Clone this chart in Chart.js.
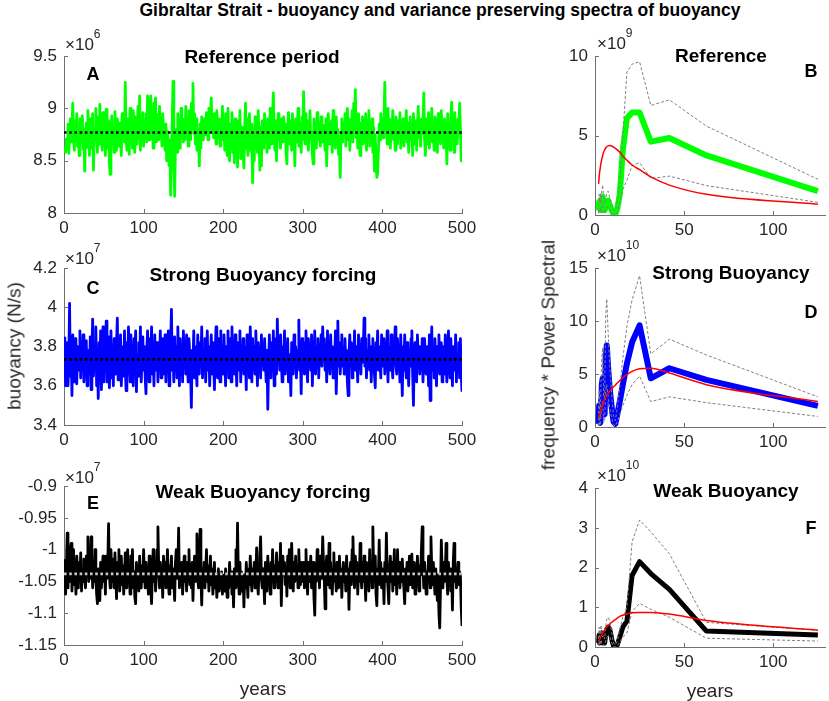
<!DOCTYPE html>
<html>
<head>
<meta charset="utf-8">
<script src="https://cdn.jsdelivr.net/npm/chart.js@4.4.1/dist/chart.umd.min.js"></script>
<style>
body{margin:0;background:#fff;}
#fig{position:relative;width:829px;height:701px;overflow:hidden;font-family:'Liberation Sans',Arial,sans-serif;color:#000;}
#fig canvas{position:absolute;}
.t{position:absolute;white-space:nowrap;transform:translate(-50%,-50%);line-height:1;}
.ex{position:absolute;white-space:nowrap;transform:translate(0,-50%);font-size:17px;color:#262626;line-height:1;}
.ex sup{font-size:12px;position:relative;top:-5px;}
</style>
</head>
<body>
<div id="fig"></div>
<script>
// time series (years 1..500), values in axis units (x10^6, x10^7, x10^7)
var seriesA = [
8.62,8.58,8.71,8.66,8.85,8.57,8.74,8.9,8.68,8.8,9.05,8.72,8.6,8.88,8.7,8.95,8.64,8.82,8.55,8.9,8.76,8.68,8.93,8.61,8.8,
8.4,8.72,8.86,8.63,8.98,8.7,8.55,8.9,8.78,8.62,8.95,8.41,8.8,8.69,9.0,8.74,8.58,8.92,8.66,9.04,8.71,8.85,8.6,8.96,8.68,
8.82,8.55,8.99,8.7,8.62,8.88,8.48,8.37,8.75,8.93,8.66,8.8,8.58,8.97,8.72,8.6,8.9,8.78,8.64,8.86,8.7,8.55,8.95,8.74,8.82,
8.68,9.25,8.72,8.6,8.9,8.78,8.56,9.0,8.7,8.85,8.62,8.98,8.74,8.58,8.92,8.8,8.66,9.02,8.72,9.12,8.6,8.84,8.7,8.96,8.64,
8.88,8.75,8.95,8.68,9.12,8.8,8.7,9.0,9.12,8.74,8.9,8.62,9.05,8.78,9.1,8.68,8.94,8.82,8.7,9.02,8.76,8.88,8.64,8.95,8.8,
8.72,8.6,8.85,8.5,8.78,8.62,8.45,8.7,8.17,8.5,8.9,9.26,8.55,8.16,8.65,8.8,8.58,8.95,8.7,8.84,8.62,9.0,8.75,8.9,8.68,
8.86,8.7,9.02,8.78,8.92,8.64,8.98,8.8,8.7,9.05,8.85,9.24,8.76,8.95,8.66,8.9,8.6,8.8,8.72,8.45,8.85,8.62,8.92,8.78,8.7,
8.9,8.82,8.75,8.96,8.84,8.7,9.0,8.8,8.92,9.1,8.78,8.88,8.72,8.95,8.84,8.66,8.98,8.82,8.76,8.9,8.64,8.85,8.78,9.02,8.7,
8.8,8.6,8.95,8.72,8.55,9.0,8.68,8.5,8.85,8.62,8.96,8.58,8.78,8.48,8.9,8.66,8.75,8.44,8.88,8.6,8.98,8.52,8.74,8.82,8.58,
8.43,8.8,9.05,8.62,8.9,8.55,8.75,8.95,8.6,8.85,8.68,8.29,8.72,8.5,8.92,8.66,8.78,8.58,8.98,8.7,8.41,8.82,8.45,8.88,8.62,
8.75,8.95,8.68,8.84,8.58,8.9,8.72,8.62,9.0,8.8,8.66,8.92,9.15,8.74,8.6,8.88,8.5,8.78,8.95,8.7,8.84,8.62,8.9,8.76,8.68,
8.92,8.7,8.85,8.58,8.47,8.8,8.96,8.66,8.74,8.88,8.6,8.95,8.72,8.82,8.45,8.9,8.68,8.78,9.0,8.64,8.86,8.74,8.58,8.92,8.7,
9.16,8.8,8.66,8.95,8.72,8.88,8.6,8.84,8.98,8.7,8.78,8.56,8.47,8.9,8.74,8.82,8.62,8.96,8.7,8.86,8.76,8.64,8.92,8.8,8.68,
8.84,8.72,8.6,8.9,8.45,8.78,8.95,8.66,8.82,8.7,8.88,8.58,8.98,8.74,8.85,8.62,8.92,8.7,8.8,8.56,8.66,8.34,8.75,8.9,8.68,
8.86,8.74,8.95,8.64,8.82,9.0,8.7,8.9,8.6,8.84,8.76,8.98,8.68,9.05,8.8,9.18,8.72,8.88,8.62,8.95,8.74,8.55,8.86,8.7,8.92,
8.66,8.84,8.76,8.95,8.6,8.88,8.72,8.98,8.64,8.8,8.7,8.9,8.58,8.82,8.4,8.75,8.5,8.34,8.38,8.6,8.85,8.7,8.95,8.78,8.9,
8.72,8.88,9.25,8.8,8.95,8.66,9.0,8.78,8.9,8.62,8.86,8.74,8.98,8.7,8.84,8.6,8.92,8.76,8.66,8.88,8.72,8.96,8.62,8.8,8.7,
8.9,8.64,8.84,8.75,8.98,8.68,8.86,8.58,8.78,8.92,8.7,8.82,8.55,8.95,8.74,8.66,8.88,8.6,8.8,9.02,8.72,8.86,8.64,8.9,8.76,
8.84,9.15,8.7,8.55,8.9,8.66,8.8,8.96,8.62,8.85,8.74,9.0,8.68,8.82,8.6,8.92,8.76,8.88,8.58,8.95,8.72,8.84,8.66,8.98,8.7,
8.86,8.62,8.9,8.74,8.8,8.47,8.95,8.7,8.84,8.6,8.92,9.06,8.72,8.88,8.58,8.96,8.7,8.82,8.66,8.9,8.76,9.05,8.8,8.5,8.52
];
var seriesC = [
3.85,3.6,3.75,3.82,3.6,3.72,4.02,3.65,3.78,3.55,3.86,3.7,3.62,3.84,3.74,3.61,3.8,3.68,3.76,3.88,3.64,3.79,3.72,3.86,3.62,
3.74,3.68,3.83,3.6,3.78,3.7,3.66,3.85,3.58,3.76,3.94,3.65,3.8,3.7,3.9,3.6,3.75,3.535,3.82,3.66,3.88,3.58,3.74,3.9,3.62,
3.8,3.7,3.93,3.62,3.76,3.85,3.59,3.72,3.88,3.64,3.78,3.6,3.84,3.7,3.66,3.82,3.945,3.63,3.77,3.7,3.86,3.6,3.74,3.8,3.65,
3.88,3.7,3.575,3.82,3.66,3.9,3.74,3.62,3.86,3.7,3.78,3.6,3.84,3.72,3.88,3.57,3.76,3.65,3.82,3.7,3.9,3.62,3.75,3.85,3.68,
3.8,3.64,3.56,3.78,3.88,3.7,3.62,3.84,3.74,3.9,3.66,3.8,3.6,3.86,3.72,3.68,3.82,3.62,3.78,3.7,3.88,3.64,3.76,3.84,3.66,
3.74,3.86,3.62,3.8,3.7,3.88,3.6,3.76,3.82,3.99,3.68,3.74,3.62,3.85,3.7,3.8,3.64,3.9,3.72,3.6,3.84,3.7,3.78,3.62,3.88,
3.72,3.8,3.66,3.86,3.7,3.62,3.84,3.76,3.68,3.49,3.78,3.7,3.88,3.64,3.8,3.72,3.6,3.86,3.74,3.66,3.82,3.7,3.9,3.64,3.78,
3.7,3.84,3.62,3.76,3.88,3.68,3.8,3.6,3.74,3.86,3.66,3.82,3.72,3.58,3.78,3.9,3.7,3.64,3.84,3.74,3.62,3.88,3.7,3.8,3.66,
3.86,3.72,3.6,3.8,3.7,3.88,3.64,3.76,3.84,3.62,3.9,3.7,3.78,3.66,3.86,3.72,3.6,3.82,3.74,3.68,3.88,3.62,3.78,3.7,3.84,
3.66,3.8,3.72,3.58,3.86,3.7,3.76,3.64,3.9,3.72,3.62,3.84,3.7,3.8,3.66,3.88,3.74,3.6,3.82,3.7,3.76,3.64,3.86,3.72,3.8,
3.68,3.84,3.72,3.62,3.78,3.48,3.7,3.86,3.74,3.64,3.82,3.7,3.88,3.6,3.76,3.84,3.66,3.94,3.72,3.8,3.68,3.86,3.74,3.62,3.8,
3.72,3.88,3.66,3.8,3.7,3.84,3.62,3.76,3.7,3.55,3.82,3.74,3.66,3.86,3.72,3.8,3.64,3.78,3.7,3.935,3.68,3.75,3.56,3.84,3.7,
3.82,3.66,3.76,3.88,3.7,3.62,3.84,3.74,3.8,3.68,3.86,3.6,3.76,3.72,3.88,3.66,3.8,3.7,3.84,3.64,3.78,3.72,3.86,3.7,3.9,
3.74,3.84,3.68,3.8,3.62,3.88,3.72,3.76,3.66,3.86,3.7,3.8,3.64,3.78,3.72,3.88,3.56,3.74,3.93,3.7,3.82,3.66,3.76,3.86,3.7,
3.8,3.66,3.84,3.72,3.78,3.62,3.55,3.76,3.86,3.7,3.82,3.64,3.78,3.72,3.88,3.68,3.8,3.74,3.62,3.86,3.7,3.78,3.66,3.84,3.72,
3.8,3.945,3.7,3.84,3.64,3.78,3.72,3.86,3.68,3.8,3.62,3.76,3.84,3.7,3.66,3.59,3.82,3.74,3.88,3.68,3.8,3.72,3.64,3.86,3.76,
3.7,3.84,3.66,3.78,3.72,3.88,3.62,3.8,3.74,3.68,3.86,3.72,3.64,3.8,3.76,3.9,3.7,3.66,3.84,3.72,3.78,3.62,3.86,3.7,3.55,
3.8,3.68,3.86,3.72,3.64,3.82,3.74,3.6,3.78,3.7,3.84,3.88,3.66,3.5,3.76,3.82,3.7,3.62,3.86,3.74,3.8,3.66,3.78,3.7,3.84,
3.62,3.76,3.84,3.7,3.66,3.8,3.74,3.6,3.86,3.525,3.72,3.9,3.68,3.78,3.64,3.84,3.72,3.6,3.8,3.7,3.86,3.66,3.76,3.82,3.62,
3.74,3.8,3.66,3.86,3.7,3.62,3.78,3.88,3.72,3.64,3.84,3.7,3.6,3.8,3.74,3.68,3.86,3.62,3.76,3.7,3.82,3.64,3.84,3.66,3.57
];
var seriesE = [
-1.015,-1.07,-1.03,-0.974,-1.06,-1.02,-1.05,-1.0,-0.99,-1.065,-1.03,-1.0,-1.055,-1.02,-1.07,-1.01,-1.04,-1.06,-1.02,-1.045,-1.005,-1.065,-1.03,-1.05,-1.015,
-1.04,-1.06,-1.01,-1.03,-0.98,-1.05,-1.02,-1.045,-0.98,-1.01,-1.06,-1.03,-1.05,-1.0,-1.04,-1.07,-1.085,-1.03,-1.05,-1.08,-1.02,-1.06,-1.035,-1.01,-1.05,
-1.03,-1.07,-1.01,-1.045,-1.02,-0.959,-1.04,-1.06,-1.0,-1.035,-1.05,-1.015,-1.06,-1.005,-1.04,-1.077,-1.02,-1.05,-1.0,-1.065,-1.03,-1.01,-1.055,-1.025,-1.07,
-1.04,-1.005,-1.06,-1.02,-1.0,-1.05,-1.03,-1.07,-1.01,-1.045,-1.0,-1.06,-1.035,-1.075,-1.085,-1.02,-1.05,-1.03,-1.065,-1.01,-1.045,-1.06,-1.025,-1.05,-1.0,
-1.04,-1.06,-1.02,-1.05,-1.03,-1.07,-1.01,-1.045,-1.06,-1.085,-1.03,-1.0,-1.05,-1.02,-1.065,-1.04,-1.0,-0.964,-1.03,-1.06,-1.02,-1.05,-1.035,-1.075,-1.01,
-1.045,-1.02,-1.06,-1.03,-1.0,-1.05,-1.07,-1.025,-1.04,-1.01,-1.06,-1.03,-1.05,-1.08,-1.02,-1.0,-1.045,-1.03,-0.966,-1.06,-1.035,-1.05,-1.02,-1.07,-1.04,
-1.01,-1.05,-1.03,-1.065,-1.02,-1.04,-1.0,-1.055,-1.03,-1.06,-1.02,-1.08,-1.035,-1.01,-1.05,-1.03,-0.975,-1.045,-1.06,-1.02,-0.968,-1.04,-1.087,-1.03,-1.05,
-1.02,-1.06,-1.035,-1.0,-1.05,-1.025,-1.065,-1.04,-1.01,-1.055,-1.03,-1.07,-1.045,-1.02,-1.06,-1.04,-1.075,-1.05,-1.03,-1.065,-1.045,-1.06,-1.035,-1.07,-1.05,
-1.04,-1.065,-1.03,-1.055,-1.075,-1.04,-1.06,-1.02,-1.05,-1.035,-1.07,-1.045,-1.09,-1.03,-1.06,-1.0,-1.05,-0.958,-1.04,-1.07,-1.02,-1.055,-1.035,-1.065,-1.04,
-1.09,-1.04,-1.06,-1.02,-1.05,-1.075,-1.03,-1.055,-1.01,-1.045,-1.065,-1.03,-1.05,-1.02,-1.06,-1.04,-0.997,-1.05,-1.07,-1.03,-1.01,-0.98,-1.045,-1.06,-1.03,
-1.05,-1.085,-1.02,-1.04,-1.065,-1.01,-1.045,-1.03,-1.07,-1.02,-1.05,-1.0,-1.04,-1.06,-1.025,-1.05,-1.005,-1.035,-1.06,-1.02,-1.045,-0.99,-1.088,-1.03,-1.01,
-1.04,-1.02,-1.055,-1.03,-1.073,-1.01,-1.045,-1.0,-1.06,-1.025,-0.99,-1.04,-1.065,-1.02,-1.05,-1.01,-1.045,-1.03,-1.06,-1.0,-1.04,-1.055,-1.02,-1.035,-1.05,
-1.02,-1.06,-1.03,-1.0,-1.045,-1.07,-1.02,-1.05,-1.035,-1.01,-1.06,-1.04,-1.02,-1.075,-1.103,-1.03,-1.05,-1.0,-1.04,-1.025,-1.06,-1.01,-1.045,-1.03,-0.98,
-1.02,-1.05,-1.093,-1.03,-1.01,-1.055,-1.04,-0.99,-1.06,-1.02,-1.045,-1.07,-1.03,-1.005,-1.05,-1.035,-1.065,-1.02,-1.04,-1.06,-1.01,-1.045,-1.03,-1.075,-1.04,
-1.02,-1.05,-1.035,-1.065,-1.01,-1.045,-1.03,-1.094,-1.04,-1.02,-1.055,-1.0,-0.98,-1.03,-1.06,-1.01,-1.045,-1.02,-1.07,-1.035,-1.05,-0.99,-1.04,-1.06,-1.02,
-1.05,-1.01,-1.04,-1.08,-1.02,-1.05,-1.03,-1.065,-1.0,-1.045,-1.02,-1.06,-0.964,-1.035,-1.05,-1.01,-1.07,-1.088,-1.03,-1.04,-0.985,-1.055,-1.02,-1.06,-1.03,
-1.04,-1.085,-1.02,-1.05,-0.974,-1.035,-1.06,-1.085,-1.03,-1.01,-1.05,-1.02,-1.065,-1.04,-1.0,-1.055,-1.03,-1.07,-1.0,-1.045,-1.02,-1.06,-1.035,-1.05,-1.015,
-1.045,-1.06,-1.085,-1.03,-1.05,-1.02,-1.065,-1.04,-1.01,-1.055,-1.03,-1.007,-1.06,-1.04,-1.02,-1.07,-1.035,-1.05,-1.01,-1.045,-1.065,-1.025,-1.04,-1.0,-0.964,
-1.03,-1.06,-1.02,-1.045,-1.07,-1.035,-1.05,-1.01,-1.04,-1.06,-0.98,-1.03,-1.055,-1.02,-1.045,-1.07,-1.03,-1.05,-1.08,-1.04,-1.1,-1.123,-1.06,-0.985,-1.03,
-1.06,-1.02,-1.05,-1.035,-0.99,-1.045,-1.07,-1.02,-1.05,-1.03,-1.065,-1.04,-1.095,-1.02,-0.99,-1.05,-1.03,-1.06,-1.04,-1.02,-1.055,-1.035,-1.04,-1.09,-1.12
];
var meanA = 8.77, meanC = 3.735, meanE = -1.038;

// spectra: period (years) and variance preserving spectra
var periods = [2.0,2.3,2.6,3.0,3.4,3.8,4.3,4.8,5.4,6.0,6.6,7.4,8.3,9.6,10.4,11.4,12.5,13.9,15.6,17.9,20.8,25,31.3,41.7,62.5,125];
// B, x10^9
var specB  = [0.3,0.8,0.4,0.9,0.3,0.8,1.15,0.6,0.3,0.5,0.85,0.9,0.6,0.25,0.05,0.05,0.4,1.3,4.1,6.1,6.45,6.45,4.62,4.85,3.75,1.5];
var upperB = [0.6,1.3,0.8,1.4,0.7,1.5,1.9,1.1,0.7,1.0,1.4,1.5,1.1,0.6,0.3,0.3,0.9,2.0,5.0,9.0,9.5,9.65,6.9,7.25,5.6,2.25];
var lowerB = [0.1,0.4,0.2,0.5,0.1,0.4,0.7,0.3,0.1,0.25,0.5,0.55,0.35,0.1,0.02,0.02,0.2,0.8,1.6,2.2,3.1,3.3,2.3,2.45,1.85,0.8];
var redB   = [1.96,2.35,2.7,3.0,3.3,3.5,3.75,3.95,4.1,4.22,4.3,4.35,4.37,4.33,4.28,4.2,4.1,3.95,3.72,3.45,3.15,2.85,2.4,1.88,1.3,0.68];
// D, x10^10
var specD  = [0.3,2.0,0.5,0.4,2.5,4.0,4.6,1.5,1.2,6.5,7.7,5.5,3.5,1.5,0.5,0.3,1.2,2.4,4.0,6.0,8.0,9.6,4.6,5.55,4.45,2.0];
var upperD = [0.8,3.5,1.0,1.0,4.5,6.5,7.5,3.0,2.5,10.5,12.1,8.8,5.5,2.5,1.0,0.6,1.8,3.8,6.5,9.5,12.0,14.3,6.9,8.3,6.8,2.85];
var lowerD = [0.1,1.0,0.2,0.15,1.2,2.0,2.4,0.7,0.5,3.3,4.0,2.8,1.7,0.7,0.2,0.1,0.5,1.2,2.0,3.0,4.0,4.8,2.4,2.85,2.3,1.0];
var redD   = [0.85,1.0,1.2,1.4,1.65,1.85,2.1,2.35,2.6,2.8,3.0,3.2,3.4,3.65,3.8,3.95,4.15,4.4,4.65,4.95,5.25,5.5,5.55,5.1,4.0,2.4];
// F, x10^10
var specF  = [0.1,0.3,0.1,0.2,0.35,0.2,0.1,0.15,0.1,0.3,0.45,0.5,0.45,0.15,0.03,0.0,0.05,0.25,0.5,0.65,1.8,2.15,1.85,1.45,0.4,0.3];
var upperF = [0.2,0.5,0.25,0.35,0.55,0.4,0.25,0.3,0.2,0.5,0.7,0.75,0.65,0.3,0.1,0.05,0.15,0.45,0.75,1.0,2.65,3.2,2.9,2.35,0.62,0.42];
var lowerF = [0.03,0.15,0.05,0.1,0.18,0.1,0.04,0.06,0.04,0.15,0.25,0.28,0.25,0.08,0.01,0.0,0.02,0.12,0.25,0.35,0.9,1.1,0.95,0.75,0.22,0.15];
var redF   = [0.13,0.16,0.19,0.23,0.27,0.31,0.35,0.39,0.43,0.47,0.5,0.54,0.58,0.63,0.66,0.69,0.73,0.77,0.8,0.83,0.86,0.87,0.87,0.83,0.67,0.42];

var years = seriesA.map(function (v, i) { return i + 1; });

var FONT = "'Liberation Sans', Arial, sans-serif";
var AXIS = '#707070';
var YW = 60, XH = 40, PT = 14, PR = 26;
var fig = document.getElementById('fig');

function pairs(xs, ys) { return ys.map(function (v, i) { return {x: xs[i], y: v}; }); }
function fmt(v) { return String(Math.round(v * 100) / 100); }

// matlab style inward ticks
var inTicks = {
  id: 'inTicks',
  beforeDatasetsDraw: function (chart) {
    var ctx = chart.ctx, a = chart.chartArea, sx = chart.scales.x, sy = chart.scales.y;
    ctx.save();
    ctx.strokeStyle = AXIS; ctx.lineWidth = 1;
    ctx.beginPath();
    sx.ticks.forEach(function (t) {
      var px = Math.round(sx.getPixelForValue(t.value)) + 0.5;
      ctx.moveTo(px, a.bottom); ctx.lineTo(px, a.bottom - 4);
    });
    sy.ticks.forEach(function (t) {
      var py = Math.round(sy.getPixelForValue(t.value)) + 0.5;
      ctx.moveTo(a.left, py); ctx.lineTo(a.left + 4, py);
    });
    ctx.stroke();
    ctx.restore();
  }
};

function axis(min, max, step, extra) {
  var o = {
    type: 'linear', min: min, max: max,
    grid: {display: true, drawOnChartArea: false, drawTicks: false},
    border: {display: true, color: AXIS, width: 1},
    ticks: {stepSize: step, includeBounds: false, color: '#262626', font: {family: FONT, size: 17},
            maxRotation: 0, autoSkip: false, callback: fmt}
  };
  for (var k in extra) o[k] = extra[k];
  return o;
}

function makeChart(area, datasets, xs, ys) {
  var c = document.createElement('canvas');
  var w = area.r - area.l + YW + PR, h = area.b - area.t + PT + XH;
  c.width = w; c.height = h;
  c.style.left = (area.l - YW) + 'px';
  c.style.top = (area.t - PT) + 'px';
  fig.appendChild(c);
  xs.ticks.padding = 5;
  xs.afterFit = function (s) { s.height = XH; };
  ys.ticks.padding = 7;
  ys.afterFit = function (s) { s.width = YW; };
  return new Chart(c, {
    type: 'line',
    data: {datasets: datasets},
    options: {
      responsive: false, animation: false, events: [],
      layout: {padding: {top: PT, right: PR, left: 0, bottom: 0}},
      plugins: {legend: {display: false}, tooltip: {enabled: false}, title: {display: false}},
      elements: {point: {radius: 0}, line: {tension: 0, borderJoinStyle: 'round'}},
      scales: {x: xs, y: ys}
    },
    plugins: [inTicks]
  });
}

function tsSets(vals, color, mean, meanColor) {
  return [
    {data: [{x: 0, y: mean}, {x: 500, y: mean}], borderColor: meanColor, borderWidth: 2.6,
     borderDash: [2.6, 2.6], order: 0},
    {data: pairs(years, vals), borderColor: color, borderWidth: 2.8, order: 1}
  ];
}

function specSets(vals, upper, lower, red, color, w) {
  return [
    {data: pairs(periods, red), borderColor: '#ff0000', borderWidth: 1.5, cubicInterpolationMode: 'monotone', order: 0},
    {data: pairs(periods, upper), borderColor: '#808080', borderWidth: 1, borderDash: [3, 2], order: 1},
    {data: pairs(periods, lower), borderColor: '#808080', borderWidth: 1, borderDash: [3, 2], order: 1},
    {data: pairs(periods, vals), borderColor: color, borderWidth: w, order: 2}
  ];
}

// left column: time series
makeChart({l: 64, r: 462, t: 53, b: 213}, tsSets(seriesA, '#00ff00', meanA, '#000000'),
  axis(0, 500, 100), axis(8, 9.5, 0.5));
makeChart({l: 64, r: 462, t: 265, b: 425}, tsSets(seriesC, '#0000ff', meanC, '#000000'),
  axis(0, 500, 100), axis(3.4, 4.2, 0.2));
makeChart({l: 64, r: 462, t: 483, b: 645}, tsSets(seriesE, '#000000', meanE, '#c8c8c8'),
  axis(0, 500, 100), axis(-1.15, -0.9, 0.05));

// right column: spectra
makeChart({l: 595, r: 825, t: 53, b: 215}, specSets(specB, upperB, lowerB, redB, '#00ff00', 6),
  axis(0, 129, 50), axis(0, 10, 5));
makeChart({l: 595, r: 825, t: 265, b: 427}, specSets(specD, upperD, lowerD, redD, '#0000ff', 6),
  axis(0, 129, 50), axis(0, 15, 5));
makeChart({l: 595, r: 825, t: 485, b: 647}, specSets(specF, upperF, lowerF, redF, '#000000', 5),
  axis(0, 129, 50), axis(0, 4, 1));

// texts
function txt(html, x, y, css, cls) {
  var d = document.createElement('div');
  d.className = cls || 't';
  d.innerHTML = html;
  d.style.left = x + 'px'; d.style.top = y + 'px';
  if (css) d.style.cssText += css;
  fig.appendChild(d);
}
txt('Gibraltar Strait - buoyancy and variance preserving spectra of buoyancy', 440, 11, 'font-size:17.5px;font-weight:bold;');
var subs = [['Reference period', 262, 56], ['Strong Buoyancy forcing', 263, 274], ['Weak Buoyancy forcing', 263, 491],
            ['Reference', 721, 55], ['Strong Buoyancy', 731, 272], ['Weak Buoyancy', 726, 490]];
subs.forEach(function (s) { txt(s[0], s[1], s[2], 'font-size:19px;font-weight:bold;'); });
var letters = [['A', 93, 74], ['C', 93, 288], ['E', 93, 503], ['B', 811, 71], ['D', 811, 312], ['F', 811, 528]];
letters.forEach(function (s) { txt(s[0], s[1], s[2], 'font-size:18px;font-weight:bold;'); });
txt('buoyancy (N/s)', 14, 346, 'font-size:19px;color:#262626;transform:translate(-50%,-50%) rotate(-90deg);');
txt('frequency * Power Spectral', 548, 355, 'font-size:19px;color:#262626;transform:translate(-50%,-50%) rotate(-90deg);');
txt('years', 263, 688, 'font-size:19px;color:#262626;');
txt('years', 710, 690, 'font-size:19px;color:#262626;');
var exps = [['6', 65, 43], ['7', 65, 257], ['7', 65, 476], ['9', 597, 42], ['10', 597, 254], ['10', 597, 474]];
exps.forEach(function (s) { txt('\u00d710<sup>' + s[0] + '</sup>', s[1], s[2], '', 'ex'); });
</script>
</body>
</html>
